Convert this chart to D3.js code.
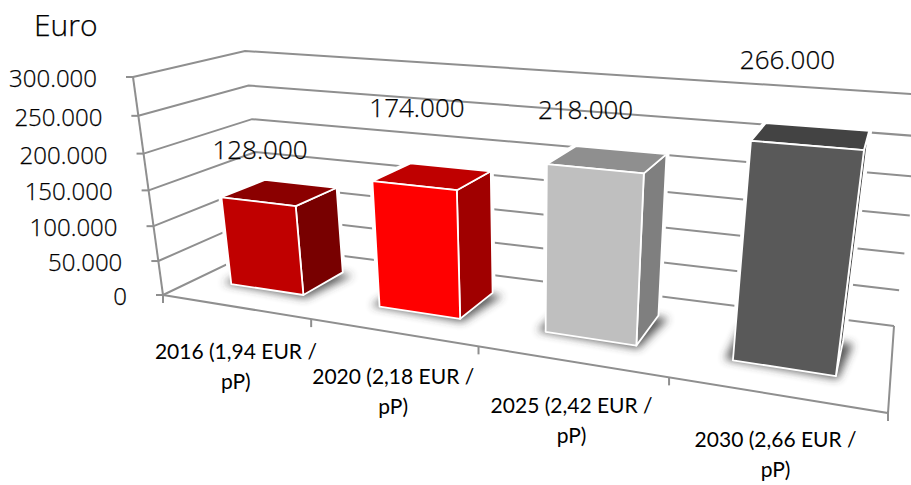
<!DOCTYPE html>
<html><head><meta charset="utf-8">
<script src="https://cdn.jsdelivr.net/npm/d3@7"></script>
<style>html,body{margin:0;padding:0;background:#fff;overflow:hidden}svg{display:block}
text{font-family:"Open Sans",sans-serif;fill:#000;stroke:#000;stroke-width:.25px}
.cat{font-family:Lato,"Open Sans",sans-serif;fill:#000;stroke:none}
</style></head><body><svg id="c" width="911" height="485"></svg>
<script>
const categories=["2016 (1,94 EUR /","2020 (2,18 EUR /","2025 (2,42 EUR /","2030 (2,66 EUR /"];
const categorySecondLine=["pP)","pP)","pP)","pP)"];
const values=[128000,174000,218000,266000];
const tickValues=[0,50000,100000,150000,200000,250000,300000];
const frontColors=["#c00000","#ff0000","#bfbfbf","#595959"];
const topColors=["#8b0000","#bf0000","#8f8f8f","#434343"];
const sideColors=["#780000","#a00000","#7f7f7f","#4a4a4a"];
const labelOffsets=[[2,-43],[3,-69],[-9,-50],[-19,-76]];
const axisTitle="Euro";

// camera frame of the box (screen corners)
const frontQuad=[[163,295],[888,413],[929,136],[133,77]];
const backQuad=[[265,246],[894,326],[927,95],[245,51]];
function homography(q){
  const [[x0,y0],[x1,y1],[x2,y2],[x3,y3]]=q;
  const dx1=x1-x2,dx2=x3-x2,sx=x0-x1+x2-x3,dy1=y1-y2,dy2=y3-y2,sy=y0-y1+y2-y3;
  const den=dx1*dy2-dx2*dy1,g=(sx*dy2-dx2*sy)/den,h=(dx1*sy-sx*dy1)/den;
  const a=x1-x0+g*x1,b=x3-x0+h*x3,d=y1-y0+g*y1,e=y3-y0+h*y3;
  return (u,v)=>{const w=g*u+h*v+1;return [(a*u+b*v+x0)/w,(d*u+e*v+y0)/w];};
}
const hf=homography(frontQuad),hb=homography(backQuad);
const vScale=d3.scaleLinear().domain([0,300000]).range([0,1]);
const uScale=d3.scaleBand().domain(categories).range([0,1]).paddingInner(.5).paddingOuter(.25);
const depthFront=.33,depthBack=.75;
function P(u,d,val){const v=vScale(val),a=hf(u,v),b=hb(u,v);return [a[0]+(b[0]-a[0])*d,a[1]+(b[1]-a[1])*d];}

const svg=d3.select("#c");
const defs=svg.append("defs");
defs.append("filter").attr("id","sh").attr("x","-30%").attr("y","-60%").attr("width","160%").attr("height","220%")
  .append("feGaussianBlur").attr("stdDeviation",4.5);
const line=d3.line();
const GRID="#8f8f8f";
const g=svg.append("g").attr("fill","none").attr("stroke",GRID).attr("stroke-width",2);

// gridlines: left wall and back wall
tickValues.forEach(t=>{
  g.append("path").attr("d",line([P(0,0,t),P(0,1,t),P(1,1,t)]));
  const p=P(0,0,t);
  g.append("path").attr("d",line([[p[0]-7,p[1]],p]));
});
// value axis and floor edges
g.append("path").attr("d",line([P(0,0,0),P(0,0,300000)]));
g.append("path").attr("d",line([P(0,0,0),P(1,0,0),P(1,1,0)]));
// category ticks
d3.range(0,1.01,.25).forEach(u=>{const p=P(u,0,0);g.append("path").attr("d",line([p,[p[0],p[1]+8]]));});

// bars
const bars=svg.selectAll("g.bar").data(categories).join("g").attr("class","bar");
bars.each(function(c,i){
  const G=d3.select(this),u0=uScale(c),u1=u0+uScale.bandwidth(),val=values[i];
  const fl0=P(u0,depthFront,0),fr0=P(u1,depthFront,0),bl0=P(u0,depthBack,0),br0=P(u1,depthBack,0);
  const fl1=P(u0,depthFront,val),fr1=P(u1,depthFront,val),bl1=P(u0,depthBack,val),br1=P(u1,depthBack,val);
  const poly=(pts)=>line(pts)+"Z";
  // white halo, then soft floor shadow, then the solid
  G.append("path").attr("d",poly([fl0,fr0,br0,br1,bl1,fl1])).attr("fill","#fff").attr("stroke","#fff").attr("stroke-width",6).attr("stroke-linejoin","round");
  G.append("path").attr("d",poly([[fl0[0]-8,fl0[1]-1],[fr0[0]+2,fr0[1]+3],[br0[0]+10,br0[1]+3],[bl0[0]-8,bl0[1]]])).attr("fill","#333").attr("opacity",.8).attr("filter","url(#sh)");
  const st=(p,col)=>p.attr("fill",col).attr("stroke","#fff").attr("stroke-width",1.8).attr("stroke-linejoin","round");
  st(G.append("path").attr("d",poly([fr0,br0,br1,fr1])),sideColors[i]);
  st(G.append("path").attr("d",poly([fl1,fr1,br1,bl1])),topColors[i]);
  st(G.append("path").attr("d",poly([fl0,fr0,fr1,fl1])),frontColors[i]);
});

const fmt=d3.formatLocale({decimal:",",thousands:".",grouping:[3],currency:["","€"]}).format(",");
tickValues.forEach(t=>{
  const p=P(0,0,t);
  svg.append("text").attr("x",p[0]-36).attr("y",p[1]+10).attr("text-anchor","end").attr("font-size",24).attr("font-weight",300).text(fmt(t));
});
svg.append("text").attr("x",34).attr("y",36).attr("font-size",30).attr("font-weight",300).text(axisTitle);

categories.forEach((c,i)=>{
  const top=P(uScale(c)+uScale.bandwidth()/2,depthFront,values[i]);
  svg.append("text").attr("x",top[0]+labelOffsets[i][0]).attr("y",top[1]+labelOffsets[i][1]).attr("text-anchor","middle").attr("font-size",26).attr("font-weight",300).text(fmt(values[i]));
  const p=P(uScale(c)+uScale.bandwidth()/2,0,0);
  const t=svg.append("text").attr("class","cat").attr("text-anchor","middle").attr("font-size",21);
  t.append("tspan").attr("x",p[0]+1).attr("y",p[1]+52).text(c);
  t.append("tspan").attr("x",p[0]+1).attr("y",p[1]+82).text(categorySecondLine[i]);
});
</script></body></html>
